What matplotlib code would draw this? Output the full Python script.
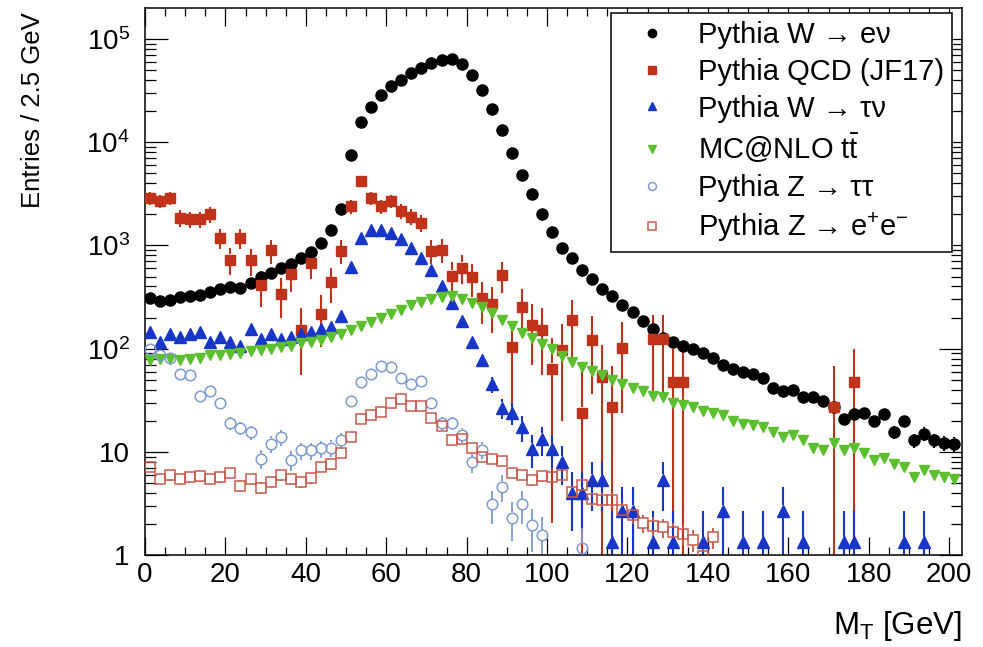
import numpy as np
import matplotlib
matplotlib.use("Agg")
import matplotlib.pyplot as plt
from matplotlib.ticker import FixedLocator, FixedFormatter, MultipleLocator

plt.rcParams['font.family'] = ['Liberation Sans', 'DejaVu Sans']
plt.rcParams['mathtext.fontset'] = 'custom'
plt.rcParams['mathtext.rm'] = 'Liberation Sans'
plt.rcParams['mathtext.it'] = 'Liberation Sans:italic'
plt.rcParams['mathtext.bf'] = 'Liberation Sans:bold'

nan = np.nan

# Transverse mass histograms, 2.5 GeV bins from 0 to 202.5 GeV
bin_edges = np.arange(0.0, 202.5 + 1e-9, 2.5)
mt = 0.5 * (bin_edges[:-1] + bin_edges[1:])

w_enu = [309, 287, 299, 313, 327, 332, 350, 377, 398, 390, 437, 497, 536, 605, 660, 763, 855, 1065, 1400,
         2240, 7500, 15600, 22000, 29000, 35000, 40500, 47000, 53000, 59000, 63000, 64000, 57000, 45000,
         32000, 21000, 13000, 7800, 4800, 3150, 2000, 1350, 950, 760, 580, 475, 380, 320, 265, 225, 186, 156,
         128, 116, 105,
         100, 91, 82, 69, 64, 60, 57, 52, 42, 39, 40, 34, 34, 31, 27, 21, 23.5, 24, 20, 23.5, 15.5, 20, 12.9,
         15, 12.9, 12.3, 12]

qcd_jf17 = [2900, 2700, 2900, 1850, 1800, 1800, 2000, 1190, 730, 1180, 715, 410, 900, 340, 530, 150, 680,
            218, 440, 890, 2400, 4200, 2900, 2400, 2700, 2150, 1900, 1650, 890, 910, 510, 610, 490, 310, 270,
            520, 104, 255, 170, 150, 64, 96, 190, 24, 122, 53, 27, 102, nan, nan, 125, 125, 47, 47,
            nan, nan, nan, nan, nan, nan, nan, nan, nan, nan, nan, nan, nan, nan, 27, nan, 47,
            nan, nan, nan, nan, nan, nan, nan, nan, nan, nan]

w_taunu = [144, 115, 140, 129, 140, 144, 115, 129, 117, 105, 155, 124, 138, 124, 131, 138, 144, 155, 163, 208,
           620, 1190, 1410, 1410, 1320, 1150, 950, 760, 575, 405, 275, 186, 115, 78, 45, 26.7, 24, 17.3, 10.7,
           13.3, 10.7, 8.0, 4.0, 4.0, 5.33, 5.33,
           1.33, 2.67, 2.67, nan, 1.33, 5.33, 1.33, nan, nan, 1.33, nan, 2.67, nan, 1.33, nan, 1.33, nan, 2.67,
           nan, 1.33, nan, nan, nan, 1.33, 1.33, nan, nan, nan, nan, 1.33, nan, 1.33, nan, nan, nan]

ttbar = [77, 79, 79, 78, 79, 82, 86, 87, 89, 91, 94, 96, 99, 103, 107, 113, 116, 121, 130, 140, 152, 165, 180,
         198, 215, 237,
         262, 282, 305, 318, 320, 305, 278, 252, 222, 190, 167, 143, 128, 112, 100, 84, 75, 67, 61, 55, 50, 45,
         42, 39, 35, 34, 30, 28.5,
         27, 25, 23.6, 22.6, 20, 18.8, 18, 17.3, 15.4, 13.8, 14.4, 12.9, 11.0, 10.3, 12.1, 10.3, 10.8, 9.7, 8.3,
         8.7, 7.7, 7.1, 5.7, 6.6, 5.9, 5.7, 5.5]

z_tautau = [100, 86, 82, 57, 55, 35, 39, 29.5, 19, 17, 15.4, 8.6, 12, 13.8, 8.3, 10.3, 10.3, 10.8, 11, 12.9,
            31, 47, 57, 68, 66, 52, 45, 49, 30, 19, 19, 14.7, 8, 10.5, 3.1, 4.6, 2.3, 3.1, 1.95, 1.56,
            nan, nan, nan, 1.17] + [nan] * 37

z_ee = [7.1, 5.5, 5.9, 5.4, 5.7, 5.8, 5.5, 5.7, 6.3, 4.7, 5.5, 4.5, 5.1, 5.9, 5.5, 5.1, 5.6, 7.1, 7.6, 9.8,
        14, 21, 22.6, 24.5, 30, 32.5, 28, 28, 21.3, 17.6, 12.9, 13.2, 10.9, 9.0, 8.6, 8.2, 6.3, 6.0, 5.3, 5.8,
        5.7, 5.9, 4.1, 4.8, 3.5, 3.45, 3.45, 2.75, 2.45, 2.05, 1.92, 1.86, 1.67, 1.6, 1.4, 0.97, 1.5] + [nan] * 24

# Average per-event weight of each sample (sets the statistical error bars)
event_weight = {
    'w_enu': 0.35,
    'qcd': 60.0,
    'w_taunu': 1.33,
    'ttbar': 0.0,
    'z_tautau': 0.39,
    'z_ee': 0.08,
}

labels = [
    "Pythia W \u2192 e\u03bd",
    "Pythia QCD (JF17)",
    "Pythia W \u2192 \u03c4\u03bd",
    r"MC@NLO $\mathrm{t\bar{t}}$",
    "Pythia Z \u2192 \u03c4\u03c4",
    "Pythia Z \u2192 e$^{+}$e$^{-}$",
]

series = [
    (w_enu, 'w_enu', dict(marker='o', ms=8.0, mfc='black', mec='black', color='black')),
    (qcd_jf17, 'qcd', dict(marker='s', ms=7.4, mfc='#C0321A', mec='#C0321A', color='#C0321A')),
    (w_taunu, 'w_taunu', dict(marker='^', ms=8.2, mfc='#1736C8', mec='#1736C8', color='#1736C8')),
    (ttbar, 'ttbar', dict(marker='v', ms=7.6, mfc='#5CBF2E', mec='#5CBF2E', color='#5CBF2E')),
    (z_tautau, 'z_tautau', dict(marker='o', ms=7.6, mfc='none', mec='#7F9BD2', mew=1.1, color='#7F9BD2')),
    (z_ee, 'z_ee', dict(marker='s', ms=7.2, mfc='none', mec='#C95A4C', mew=1.1, color='#C95A4C')),
]

W, H = 983, 647
fig = plt.figure(figsize=(W / 100, H / 100), dpi=100)
ax = fig.add_axes([145 / W, 1 - 555 / H, (962 - 145) / W, (555 - 8) / H])
ax.set_yscale('log')
ymin, ymax = 1.0, 2.0e5
ax.set_xlim(0, 203.2)
ax.set_ylim(ymin, ymax)

# pixels per decade, used to leave the marker area free of error bar lines
px_per_dec = ax.bbox.height / np.log10(ymax / ymin)

handles = []
for values, key, style in series:
    y = np.asarray(values, dtype=float)
    color = style['color']
    err = np.sqrt(y * event_weight[key])
    half_px = style['ms'] * 100 / 72 / 2
    g = 10 ** (half_px / px_per_dec)
    ok = np.isfinite(y) & (err > 0)
    up = ok & (y + err > y * g)
    lo = ok & (y - err < y / g)
    lw = 1.3 if key in ('z_tautau', 'z_ee') else 1.5
    ax.vlines(mt[up], (y * g)[up], (y + err)[up], colors=color, lw=lw, zorder=2)
    low_end = np.where(y - err > 0, y - err, ymin * 1e-3)
    ax.vlines(mt[lo], low_end[lo], (y / g)[lo], colors=color, lw=lw, zorder=2)
    kw = {k: v for k, v in style.items() if k != 'color'}
    h, = ax.plot(mt, y, ls='none', zorder=3, **kw)
    handles.append(h)

# ROOT-like frame and ticks
for sp in ax.spines.values():
    sp.set_linewidth(1.1)
ax.xaxis.set_major_locator(MultipleLocator(20))
ax.xaxis.set_minor_locator(MultipleLocator(5))
dec = [1, 10, 1e2, 1e3, 1e4, 1e5]
ax.yaxis.set_major_locator(FixedLocator(dec))
ax.yaxis.set_major_formatter(FixedFormatter(["1", "10", "10$^{2}$", "10$^{3}$", "10$^{4}$", "10$^{5}$"]))
minors = [m * d for d in [1, 10, 1e2, 1e3, 1e4, 1e5] for m in range(2, 10) if m * d < ymax]
ax.yaxis.set_minor_locator(FixedLocator(minors))
ax.yaxis.set_minor_formatter(FixedFormatter([""] * len(minors)))

ax.tick_params(axis='both', which='both', direction='in', top=True, right=True, width=0.9, color='black')
ax.tick_params(axis='x', which='major', length=13, labelsize=20, pad=5)
ax.tick_params(axis='x', which='minor', length=6)
ax.tick_params(axis='y', which='major', length=16.5, labelsize=20, pad=11)
ax.tick_params(axis='y', which='minor', length=8)

fig.text(33 / W, 1 - 12 / H, "Entries / 2.5 GeV", rotation=90, ha='center', va='top', fontsize=18.5)
fig.text(962 / W, 1 - 626 / H, r"M$_\mathrm{T}$ [GeV]", ha='right', va='center', fontsize=22.5)

leg = ax.legend(handles, labels, loc='upper right', bbox_to_anchor=(952 / W, 1 - 13 / H),
                bbox_transform=fig.transFigure, fontsize=21, markerscale=0.75, frameon=True,
                fancybox=False, shadow=False, borderpad=0.28, handlelength=2.3, handletextpad=0.4,
                labelspacing=0.3, borderaxespad=0.0)
leg.get_frame().set_edgecolor('black')
leg.get_frame().set_linewidth(1.1)
leg.get_frame().set_alpha(1.0)

fig.savefig('out.png', dpi=100)
